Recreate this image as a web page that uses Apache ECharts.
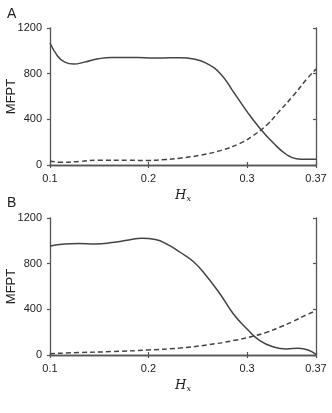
<!DOCTYPE html>
<html>
<head>
<meta charset="utf-8">
<script src="https://cdn.jsdelivr.net/npm/echarts@6/dist/echarts.min.js"></script>
<style>
html,body{margin:0;padding:0;background:#fff;}
#chart{width:332px;height:413px;}
</style>
</head>
<body>
<div id="chart"></div>
<script>
// Panel A
var hxSolidA = [0.1, 0.108, 0.115, 0.124, 0.135, 0.149, 0.163, 0.18, 0.196, 0.21, 0.232, 0.246, 0.259, 0.273, 0.286, 0.3, 0.313, 0.327, 0.34, 0.35, 0.36, 0.37];
var solidA   = [1068, 951, 901, 884, 901, 930, 942, 942, 939, 937, 940, 928, 890, 800, 643, 468, 322, 190, 92, 55, 50, 50];
var hxDashA  = [0.1, 0.112, 0.13, 0.149, 0.18, 0.2, 0.217, 0.232, 0.252, 0.273, 0.293, 0.306, 0.32, 0.333, 0.347, 0.36, 0.37];
var dashA    = [35, 23, 32, 41, 41, 40, 48, 60, 85, 126, 190, 257, 351, 474, 608, 746, 840];
// Panel B
var hxSolidB = [0.1, 0.115, 0.129, 0.146, 0.163, 0.18, 0.193, 0.207, 0.22, 0.232, 0.246, 0.259, 0.273, 0.286, 0.3, 0.313, 0.327, 0.34, 0.352, 0.362, 0.37];
var solidB   = [955, 973, 976, 973, 985, 1008, 1023, 1011, 964, 900, 815, 690, 530, 362, 228, 126, 70, 53, 59, 44, 5];
var hxDashB  = [0.1, 0.129, 0.163, 0.2, 0.232, 0.259, 0.286, 0.306, 0.32, 0.333, 0.347, 0.36, 0.37];
var dashB    = [12, 21, 30, 44, 61, 88, 126, 164, 199, 243, 295, 351, 387];
// Axes
var xMin = 0.1, xMax = 0.37, xStep = 0.1;
var yTicks = [0, 400, 800, 1200];
var panelLabels = ['A', 'B'];
var yName = 'MFPT';

function pairs(xs, ys){ return xs.map(function(x,i){ return [x, ys[i]]; }); }

var axisColor = '#555';
var textColor = '#222';
var lineColor = '#444';
var font = 'Liberation Sans, Arial, sans-serif';
var grids = [
  {left:50, top:28, width:266, height:137, containLabel:false, outerBoundsMode:'none'},
  {left:50, top:218, width:266, height:137, containLabel:false, outerBoundsMode:'none'}
];

var xAxes = [], yAxes = [];
grids.forEach(function(g, gi){
  xAxes.push({
    type:'value', gridIndex:gi, min:xMin, max:xMax, interval:xStep, position:'bottom',
    axisLine:{lineStyle:{color:axisColor, width:1.3}},
    axisTick:{show:true, length:3, inside:false, lineStyle:{color:axisColor, width:1.2}},
    axisLabel:{color:textColor, fontSize:11, fontFamily:font, margin:8,
      formatter:function(v){ return String(+v.toFixed(2)); }},
    splitLine:{show:false},
    name:'{h|H}{s|x}', nameLocation:'middle', nameGap:24, nameMoveOverlap:false,
    nameTextStyle:{rich:{
      h:{fontFamily:'DejaVu Serif, Liberation Serif, serif', fontStyle:'italic', fontSize:13, color:textColor},
      s:{fontFamily:'DejaVu Serif, Liberation Serif, serif', fontStyle:'italic', fontSize:8, color:textColor, padding:[6,0,0,0]}
    }}
  });
  xAxes.push({
    type:'value', gridIndex:gi, min:xMin, max:xMax, interval:xStep, position:'top',
    axisLine:{lineStyle:{color:axisColor, width:1.3}},
    axisTick:{show:true, length:3, inside:false, lineStyle:{color:axisColor, width:1.2}},
    axisLabel:{show:false}, splitLine:{show:false}
  });
  yAxes.push({
    type:'value', gridIndex:gi, min:yTicks[0], max:yTicks[yTicks.length-1], interval:yTicks[1]-yTicks[0], position:'left',
    axisLine:{show:true, lineStyle:{color:axisColor, width:1.3}},
    axisTick:{show:true, length:3, inside:false, lineStyle:{color:axisColor, width:1.2}},
    axisLabel:{color:textColor, fontSize:11, fontFamily:font, margin:8,
      formatter:function(v){ return String(v); }},
    splitLine:{show:false},
    name:yName, nameLocation:'middle', nameGap:32, nameMoveOverlap:false,
    nameTextStyle:{color:textColor, fontSize:13, fontFamily:font}
  });
  yAxes.push({
    type:'value', gridIndex:gi, min:yTicks[0], max:yTicks[yTicks.length-1], interval:yTicks[1]-yTicks[0], position:'right',
    axisLine:{show:true, lineStyle:{color:axisColor, width:1.3}},
    axisTick:{show:true, length:3, inside:true, lineStyle:{color:axisColor, width:1.2}},
    axisLabel:{show:false}, splitLine:{show:false}
  });
});

function lineSeries(gi, data, dashed){
  return {
    type:'line', xAxisIndex:gi*2, yAxisIndex:gi*2, data:data, smooth:0.5,
    showSymbol:false, symbol:'none', silent:true, animation:false, clip:true,
    lineStyle:{color:lineColor, width:1.5, type: dashed ? [5,3] : 'solid'}
  };
}

var chart = echarts.init(document.getElementById('chart'), null, {renderer:'canvas'});
chart.setOption({
  animation:false,
  backgroundColor:'#fff',
  title:[
    {text:panelLabels[0], left:7, top:7, padding:0, textStyle:{fontSize:14, fontWeight:'normal', color:textColor, fontFamily:font}},
    {text:panelLabels[1], left:7, top:196, padding:0, textStyle:{fontSize:14, fontWeight:'normal', color:textColor, fontFamily:font}}
  ],
  grid:grids,
  xAxis:xAxes,
  yAxis:yAxes,
  series:[
    lineSeries(0, pairs(hxSolidA, solidA), false),
    lineSeries(0, pairs(hxDashA, dashA), true),
    lineSeries(1, pairs(hxSolidB, solidB), false),
    lineSeries(1, pairs(hxDashB, dashB), true)
  ]
});
</script>
</body>
</html>
